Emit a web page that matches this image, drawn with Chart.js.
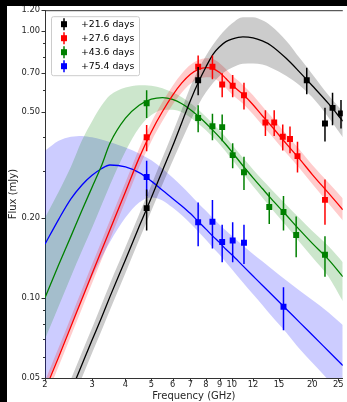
<!DOCTYPE html>
<html><head><meta charset="utf-8">
<script src="https://cdn.jsdelivr.net/npm/chart.js@4.4.1/dist/chart.umd.min.js"></script>
<style>
html,body{margin:0;padding:0;background:#000;width:347px;height:402px;overflow:hidden}
#wrap{position:absolute;left:7px;top:6px;width:340px;height:396px;background:#fff}
canvas{display:block}
</style></head><body>
<div id="wrap"><canvas id="c" width="340" height="396"></canvas></div>
<script>
// ---------- data ----------
const seriesLabels = ['+21.6 days', '+27.6 days', '+43.6 days', '+75.4 days'];

// model curve sampling frequencies (GHz)
const freqGrid = [2, 2.25, 2.5, 2.75, 3, 3.25, 3.5, 4, 4.5, 5, 5.5, 6, 6.5, 7, 7.5, 8, 8.5, 9, 9.5, 10, 11, 12, 13, 14, 16, 18, 20, 23, 26];

// +21.6 days model (line, upper and lower band edges), mJy
const model21   = [0.026, 0.0346, 0.0446, 0.0562, 0.0694, 0.084, 0.101, 0.139, 0.185, 0.238, 0.30, 0.37, 0.455, 0.55, 0.645, 0.735, 0.82, 0.875, 0.915, 0.935, 0.953, 0.945, 0.92, 0.885, 0.79, 0.70, 0.625, 0.535, 0.46];
const model21Hi = [0.029, 0.0385, 0.0495, 0.0625, 0.077, 0.094, 0.113, 0.155, 0.206, 0.265, 0.335, 0.415, 0.51, 0.62, 0.72, 0.81, 0.89, 0.96, 1.02, 1.07, 1.13, 1.13, 1.10, 1.05, 0.92, 0.79, 0.69, 0.575, 0.50];
const model21Lo = [0.0232, 0.031, 0.0398, 0.0502, 0.062, 0.075, 0.09, 0.124, 0.165, 0.212, 0.266, 0.325, 0.39, 0.46, 0.53, 0.59, 0.64, 0.68, 0.71, 0.73, 0.755, 0.757, 0.75, 0.73, 0.68, 0.625, 0.565, 0.475, 0.40];

// +27.6 days model
const model27   = [0.045, 0.06, 0.078, 0.099, 0.123, 0.15, 0.18, 0.25, 0.335, 0.42, 0.50, 0.575, 0.64, 0.69, 0.72, 0.73, 0.725, 0.70, 0.665, 0.63, 0.58, 0.53, 0.482, 0.443, 0.378, 0.33, 0.29, 0.247, 0.214];
const model27Hi = [0.0488, 0.0651, 0.0846, 0.1074, 0.1335, 0.1628, 0.1953, 0.2713, 0.3635, 0.4557, 0.5425, 0.6239, 0.6944, 0.7487, 0.7812, 0.7921, 0.7866, 0.7595, 0.7215, 0.6836, 0.6293, 0.5751, 0.523, 0.4807, 0.4101, 0.3581, 0.3147, 0.27, 0.236];
const model27Lo = [0.0415, 0.0553, 0.0719, 0.0912, 0.1134, 0.1383, 0.1659, 0.2304, 0.3088, 0.3871, 0.4608, 0.53, 0.5899, 0.636, 0.6636, 0.6728, 0.6682, 0.6452, 0.6129, 0.5807, 0.5346, 0.4885, 0.4442, 0.4083, 0.3484, 0.3042, 0.2673, 0.226, 0.195];

// +43.6 days model
const model43   = [0.10, 0.133, 0.17, 0.213, 0.26, 0.312, 0.38, 0.472, 0.528, 0.556, 0.564, 0.555, 0.535, 0.508, 0.48, 0.452, 0.425, 0.40, 0.376, 0.353, 0.313, 0.282, 0.257, 0.236, 0.204, 0.179, 0.16, 0.139, 0.12];
const model43Hi = [0.20, 0.25, 0.31, 0.39, 0.46, 0.525, 0.575, 0.615, 0.628, 0.625, 0.612, 0.59, 0.565, 0.538, 0.508, 0.478, 0.45, 0.424, 0.40, 0.376, 0.335, 0.303, 0.277, 0.256, 0.223, 0.198, 0.178, 0.156, 0.136];
const model43Lo = [0.07, 0.093, 0.12, 0.15, 0.183, 0.222, 0.265, 0.355, 0.435, 0.485, 0.507, 0.508, 0.497, 0.475, 0.45, 0.425, 0.40, 0.377, 0.353, 0.331, 0.293, 0.262, 0.238, 0.217, 0.186, 0.161, 0.142, 0.12, 0.097];

// +75.4 days model
const model75   = [0.159, 0.197, 0.235, 0.265, 0.288, 0.305, 0.315, 0.31, 0.295, 0.274, 0.253, 0.236, 0.221, 0.207, 0.193, 0.181, 0.17, 0.161, 0.152, 0.145, 0.1317, 0.1207, 0.1114, 0.1035, 0.0906, 0.0805, 0.0725, 0.063, 0.0557];
const model75Hi = [0.356, 0.388, 0.402, 0.405, 0.40, 0.393, 0.384, 0.366, 0.348, 0.328, 0.305, 0.283, 0.262, 0.243, 0.226, 0.212, 0.199, 0.188, 0.179, 0.171, 0.157, 0.146, 0.137, 0.129, 0.116, 0.106, 0.098, 0.088, 0.079];
const model75Lo = [0.046, 0.061, 0.079, 0.099, 0.12, 0.141, 0.162, 0.20, 0.228, 0.238, 0.232, 0.218, 0.204, 0.19, 0.177, 0.165, 0.154, 0.145, 0.136, 0.128, 0.114, 0.103, 0.094, 0.086, 0.074, 0.064, 0.057, 0.049, 0.042];

// observations: frequency (GHz), flux (mJy), 1-sigma error (mJy)
const obsFreq21 = [4.8, 7.48, 19.06, 22.3, 23.8, 25.6];
const obsFlux21 = [0.217, 0.655, 0.655, 0.451, 0.516, 0.492];
const obsErr21  = [0.038, 0.08, 0.075, 0.065, 0.072, 0.06];

const obsFreq27 = [4.8, 7.48, 8.46, 9.2, 10.07, 11.1, 13.35, 14.4, 15.5, 16.5, 17.6, 22.3];
const obsFlux27 = [0.40, 0.736, 0.736, 0.631, 0.625, 0.575, 0.455, 0.455, 0.402, 0.394, 0.34, 0.233];
const obsErr27  = [0.045, 0.075, 0.075, 0.065, 0.06, 0.066, 0.05, 0.05, 0.045, 0.045, 0.045, 0.045];

const obsFreq43 = [4.8, 7.48, 8.46, 9.2, 10.07, 11.1, 13.8, 15.6, 17.4, 22.3];
const obsFlux43 = [0.537, 0.473, 0.44, 0.437, 0.343, 0.296, 0.219, 0.21, 0.172, 0.145];
const obsErr43  = [0.064, 0.055, 0.05, 0.05, 0.037, 0.042, 0.03, 0.031, 0.03, 0.025];

const obsFreq75 = [4.8, 7.48, 8.46, 9.2, 10.07, 11.1, 15.6];
const obsFlux75 = [0.284, 0.192, 0.193, 0.162, 0.164, 0.161, 0.0925];
const obsErr75  = [0.043, 0.036, 0.04, 0.026, 0.028, 0.027, 0.017];

// axis ticks
const xTickValues = [2, 3, 4, 5, 6, 7, 8, 9, 10, 12, 15, 20, 25];
const yTickValues = [0.05, 0.06, 0.07, 0.08, 0.09, 0.10, 0.20, 0.30, 0.40, 0.50, 0.60, 0.70, 0.80, 0.90, 1.00, 1.20];
const yTickLabels = ['0.05', '', '', '', '', '0.10', '0.20', '', '', '0.50', '', '0.70', '', '', '1.00', '1.20'];

// ---------- build chart ----------
const FONT = 'DejaVu Sans';
const colors = ['#000000', '#ff0000', '#008000', '#0000ff'];
const bandColors = ['rgba(0,0,0,0.2)', 'rgba(255,0,0,0.2)', 'rgba(0,128,0,0.2)', 'rgba(0,0,255,0.2)'];
const models = [[model21, model21Hi, model21Lo], [model27, model27Hi, model27Lo], [model43, model43Hi, model43Lo], [model75, model75Hi, model75Lo]];
const obs = [[obsFreq21, obsFlux21, obsErr21], [obsFreq27, obsFlux27, obsErr27], [obsFreq43, obsFlux43, obsErr43], [obsFreq75, obsFlux75, obsErr75]];

const pts = (xs, ys) => xs.map((x, i) => ({x: x, y: ys[i]}));
const datasets = [];
for (let s = 0; s < 4; s++) {
  const [mid, hi, lo] = models[s];
  datasets.push({label: seriesLabels[s] + ' hi', data: pts(freqGrid, hi), borderColor: 'rgba(0,0,0,0)', borderWidth: 0,
    pointRadius: 0, fill: '+1', backgroundColor: bandColors[s], cubicInterpolationMode: 'monotone', clip: 0, order: 3});
  datasets.push({label: seriesLabels[s] + ' lo', data: pts(freqGrid, lo), borderColor: 'rgba(0,0,0,0)', borderWidth: 0,
    pointRadius: 0, fill: false, cubicInterpolationMode: 'monotone', clip: 0, order: 3});
  datasets.push({label: seriesLabels[s] + ' model', data: pts(freqGrid, mid), borderColor: colors[s], borderWidth: 1.3,
    pointRadius: 0, fill: false, cubicInterpolationMode: 'monotone', clip: 0, order: 1});
}
for (let s = 0; s < 4; s++) {
  const [f, v, e] = obs[s];
  datasets.push({label: seriesLabels[s], data: pts(f, v), showLine: false, pointStyle: 'rect', pointRadius: 4.2,
    pointBackgroundColor: colors[s], pointBorderWidth: 0, pointBorderColor: colors[s], errors: e, errColor: colors[s], clip: 0, order: 0});
}

const errorBars = {
  id: 'errorBars',
  beforeDatasetDraw(chart, args) {
    const ds = chart.data.datasets[args.index];
    if (!ds.errors) return;
    const y = chart.scales.y, ctx = chart.ctx, a = chart.chartArea;
    ctx.save();
    ctx.beginPath(); ctx.rect(a.left, a.top, a.right - a.left, a.bottom - a.top); ctx.clip();
    ctx.strokeStyle = ds.errColor; ctx.lineWidth = 1.5;
    args.meta.data.forEach((p, i) => {
      const v = ds.data[i].y, e = ds.errors[i];
      ctx.beginPath();
      ctx.moveTo(p.x, y.getPixelForValue(v + e));
      ctx.lineTo(p.x, y.getPixelForValue(v - e));
      ctx.stroke();
    });
    ctx.restore();
  }
};

const decorations = {
  id: 'decorations',
  afterDraw(chart) {
    const ctx = chart.ctx, a = chart.chartArea, xs = chart.scales.x, ys = chart.scales.y;
    ctx.save();
    // top spine
    ctx.strokeStyle = '#333'; ctx.lineWidth = 1;
    ctx.beginPath(); ctx.moveTo(a.left, a.top + 0.5); ctx.lineTo(a.right, a.top + 0.5); ctx.stroke();
    // x ticks
    xTickValues.forEach(v => {
      const px = Math.round(xs.getPixelForValue(v)) + 0.5;
      ctx.beginPath(); ctx.moveTo(px, a.bottom); ctx.lineTo(px, a.bottom + 3.5); ctx.stroke();
    });
    // y ticks (major / minor)
    yTickValues.forEach((v, i) => {
      const py = Math.round(ys.getPixelForValue(v)) + 0.5;
      const len = yTickLabels[i] ? 3.5 : 2;
      ctx.beginPath(); ctx.moveTo(a.left - len, py); ctx.lineTo(a.left, py); ctx.stroke();
    });
    // legend
    const bx = a.left + 6, by = a.top + 6, bw = 88, bh = 59;
    ctx.fillStyle = 'rgba(255,255,255,0.8)'; ctx.strokeStyle = '#cccccc'; ctx.lineWidth = 1;
    ctx.beginPath();
    if (ctx.roundRect) ctx.roundRect(bx + 0.5, by + 0.5, bw, bh, 2); else ctx.rect(bx + 0.5, by + 0.5, bw, bh);
    ctx.fill(); ctx.stroke();
    ctx.font = '9.3px "' + FONT + '"'; ctx.textBaseline = 'middle'; ctx.textAlign = 'left';
    seriesLabels.forEach((lab, i) => {
      const ry = by + 8 + 14 * i, mx = bx + 13;
      ctx.strokeStyle = colors[i]; ctx.lineWidth = 1.5;
      ctx.beginPath(); ctx.moveTo(mx, ry - 6); ctx.lineTo(mx, ry + 6); ctx.stroke();
      ctx.fillStyle = colors[i]; ctx.fillRect(mx - 3, ry - 3, 6, 6);
      ctx.fillStyle = '#000'; ctx.fillText(lab, bx + 30, ry + 0.5);
    });
    ctx.restore();
  }
};

new Chart(document.getElementById('c'), {
  type: 'line',
  data: {datasets: datasets},
  options: {
    responsive: false, animation: false, devicePixelRatio: 1,
    layout: {padding: {top: 3, left: 0, right: 0, bottom: 0}},
    plugins: {legend: {display: false}, tooltip: {enabled: false}},
    scales: {
      x: {
        type: 'logarithmic', min: 2, max: 26, position: 'bottom',
        afterBuildTicks: s => { s.ticks = xTickValues.map(v => ({value: v})); },
        afterFit: s => { s.height = 24; s.paddingLeft = 0; s.paddingRight = 0; },
        ticks: {autoSkip: false, maxRotation: 0, minRotation: 0, padding: 1.5, color: '#262626',
          font: {family: FONT, size: 8.3}, callback: v => String(v)},
        grid: {display: true, drawOnChartArea: false, drawTicks: false},
        border: {display: true, color: '#333', width: 1},
        title: {display: true, text: 'Frequency (GHz)', color: '#262626', font: {family: FONT, size: 10}, padding: {top: 0, bottom: 0}}
      },
      y: {
        type: 'logarithmic', min: 0.05, max: 1.2, position: 'left',
        afterBuildTicks: s => { s.ticks = yTickValues.map(v => ({value: v})); },
        afterFit: s => { s.width = 38; s.paddingTop = 0; s.paddingBottom = 0; },
        ticks: {autoSkip: false, padding: 5, color: '#262626', font: {family: FONT, size: 8.3},
          callback: (v) => { const i = yTickValues.indexOf(v); return i >= 0 ? yTickLabels[i] : ''; }},
        grid: {display: true, drawOnChartArea: false, drawTicks: false},
        border: {display: true, color: '#333', width: 1},
        title: {display: true, text: 'Flux (mJy)', color: '#262626', font: {family: FONT, size: 10}, padding: {top: 0, bottom: 0}}
      }
    }
  },
  plugins: [errorBars, decorations]
});
</script>
</body></html>
